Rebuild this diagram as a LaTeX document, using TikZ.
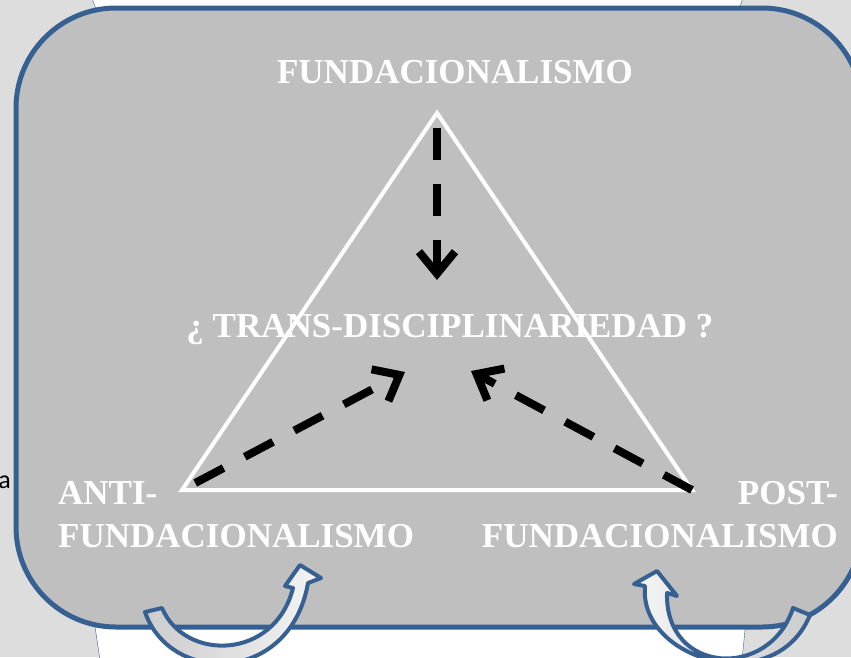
\documentclass[tikz,border=0pt]{standalone}
\usepackage{fontspec}
\setmainfont{Liberation Serif}
\newfontfamily\sidefont{Carlito}
\usetikzlibrary{arrows.meta}
\definecolor{framecol}{RGB}{55,96,146}
\definecolor{boxgray}{RGB}{191,191,191}
\definecolor{pagegray}{RGB}{221,221,221}

\begin{document}
\begin{tikzpicture}[x=1pt,y=-1pt,
      whitetext/.style={text=white,inner sep=0pt,font=\bfseries\fontsize{35}{43}\selectfont},
      dasharrow/.style={line width=8pt,dash pattern=on 32pt off 24pt,-{Straight Barb[length=22pt,width=36pt]}},
      bendarrow/.style={draw=framecol,line width=4pt,line join=round}]
      \useasboundingbox (0,0) rectangle (851,657);
      \clip (0,0) rectangle (851,657);
      \fill[pagegray] (0,0) rectangle (851,657);
      \fill[white] (92,-2) -- (743,-2) -- (738,12) -- (97,12) -- cycle (94,620) -- (746,620) -- (742,660) -- (100,660) -- cycle;
      \draw[framecol,thin] (92,-2) -- (97,12) (743,-2) -- (738,12) (94,620) -- (100,660) (746,620) -- (742,660);
      \node[anchor=base east,inner sep=0pt,font=\sidefont\fontsize{26}{30}\selectfont] (cut) at (11,488) {a};
      \filldraw[fill=boxgray,draw=framecol,line width=5pt,rounded corners=100pt] (16,8) rectangle (862,627);
      \draw[bendarrow,left color=gray!40,right color=gray!8] (145,612) -- (162,608) .. controls (185,662) and (275,660) .. (293,588) -- (285,586) -- (300,565) -- (321,578) -- (308,583) .. controls (290,685) and (170,685) .. (145,612) -- cycle;
      \draw[bendarrow,left color=gray!8,right color=gray!40] (810,615) -- (793,608) .. controls (770,680) and (665,675) .. (667,593) -- (677,596) -- (657,571) -- (634,584) -- (645,586) .. controls (638,660) and (775,700) .. (810,615) -- cycle;

      \coordinate (apex) at (437,113);
      \coordinate (lcorner) at (182,490);
      \coordinate (rcorner) at (692,490);
      \draw[white,line width=4pt] (apex) -- (lcorner) -- (rcorner) -- cycle;

      \node[whitetext,anchor=base] (fund) at (455,83) {FUNDACIONALISMO};
      \node[whitetext,anchor=base] (trans) at (450,337) {¿ TRANS-DISCIPLINARIEDAD ?};
      \node[whitetext,anchor=base west,align=left] (anti) at (58,547) {ANTI-\\FUNDACIONALISMO};
      \node[whitetext,anchor=base east,align=right] (post) at (838,547) {POST-\\FUNDACIONALISMO};

      \coordinate (downend) at (437,280);
      \coordinate (leftend) at (405,372);
      \coordinate (rightend) at (471,371);
      \draw[dasharrow,shorten <=15pt] (apex) -- (downend);
      \draw[dasharrow,shorten <=15pt] (lcorner) -- (leftend);
      \draw[dasharrow] (rcorner) -- (rightend);
\end{tikzpicture}
\end{document}
